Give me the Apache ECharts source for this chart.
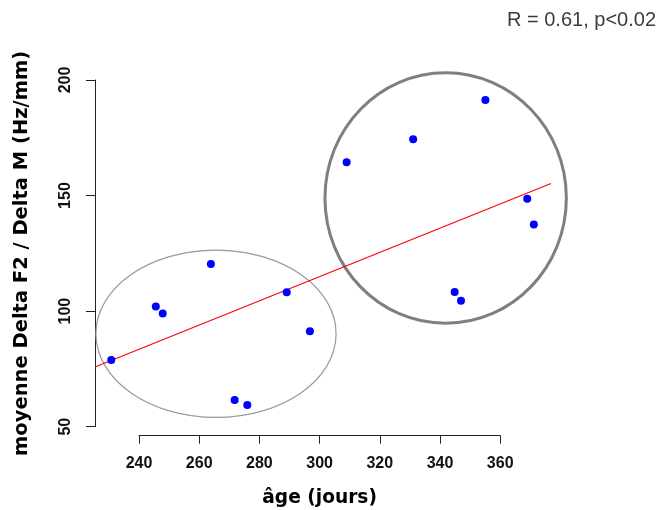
<!DOCTYPE html>
<html><head><meta charset="utf-8">
<script src="https://cdn.jsdelivr.net/npm/echarts@6/dist/echarts.min.js"></script>
<style>html,body{margin:0;padding:0;background:#fff}#c{width:662px;height:510px}</style>
</head><body><div id="c"></div>
<script>
// ---- data ----
const ageJours  = [230.8, 245.6, 247.9, 263.9, 271.8, 276.0, 289.1, 296.8, 309.0, 331.1, 344.9, 347.0, 355.1, 369.0, 371.2];
const deltaF2M  = [78.8, 102.0, 99.0, 120.4, 61.5, 59.4, 108.1, 91.3, 164.4, 174.3, 108.3, 104.5, 191.3, 148.6, 137.4];
const xTicks = [240, 260, 280, 300, 320, 340, 360];
const yTicks = [50, 100, 150, 200];
// group ellipses: [centre age, centre value, half-width (days), half-height (units)]
const groupLeft  = [265.6, 90.2, 39.9, 36.2];
const groupRight = [341.9, 148.9, 40.1, 54.2];
const xTitle = 'âge (jours)';
const yTitle = 'moyenne Delta F2 / Delta M (Hz/mm)';
const statText = 'R = 0.61, p<0.02';

// ---- plotting region limits (R style 4% extension) ----
const X_MIN = 225.4, X_MAX = 376.9, Y_MIN = 46.1, Y_MAX = 204;

// least squares fit
const n = ageJours.length;
const mx = ageJours.reduce((a, b) => a + b, 0) / n;
const my = deltaF2M.reduce((a, b) => a + b, 0) / n;
let sxy = 0, sxx = 0;
for (let i = 0; i < n; i++) { sxy += (ageJours[i] - mx) * (deltaF2M[i] - my); sxx += (ageJours[i] - mx) ** 2; }
const slope = sxy / sxx, icpt = my - slope * mx;
const fitLine = [[X_MIN, icpt + slope * X_MIN], [X_MAX, icpt + slope * X_MAX]];

const points = ageJours.map((x, i) => [x, deltaF2M[i]]);
const ellipseStyles = [
  { stroke: '#9a9a9a', lineWidth: 1.2 },
  { stroke: '#7f7f7f', lineWidth: 3 }
];

const axisColor = '#222';
const tickFont = { fontSize: 16, fontWeight: 'bold', color: '#111', fontFamily: 'Liberation Sans' };
const chart = echarts.init(document.getElementById('c'), null, { renderer: 'canvas' });
chart.setOption({
  animation: false,
  backgroundColor: '#fff',
  grid: [
    { left: 95, top: 70.65, width: 456, height: 365.05, outerBoundsMode: 'none' },
    { left: 139, top: 100, width: 361.2, height: 335.7, outerBoundsMode: 'none' },
    { left: 95, top: 80, width: 100, height: 346.7, outerBoundsMode: 'none' }
  ],
  xAxis: [
    { gridIndex: 0, type: 'value', min: X_MIN, max: X_MAX, show: false },
    { gridIndex: 1, type: 'value', min: xTicks[0], max: xTicks[xTicks.length - 1], interval: 20,
      axisLine: { show: true, lineStyle: { color: axisColor, width: 1 } },
      axisTick: { show: true, length: 8, lineStyle: { color: axisColor } },
      axisLabel: Object.assign({ margin: 20 }, tickFont),
      splitLine: { show: false },
      name: xTitle, nameLocation: 'middle', nameGap: 53,
      nameTextStyle: { fontFamily: 'DejaVu Sans', fontWeight: 'bold', fontSize: 18.6, color: '#000' } },
    { gridIndex: 2, type: 'value', show: false }
  ],
  yAxis: [
    { gridIndex: 0, type: 'value', min: Y_MIN, max: Y_MAX, show: false },
    { gridIndex: 1, type: 'value', show: false },
    { gridIndex: 2, type: 'value', min: yTicks[0], max: yTicks[yTicks.length - 1], interval: 50,
      axisLine: { show: true, lineStyle: { color: axisColor, width: 1 } },
      axisTick: { show: true, length: 9, lineStyle: { color: axisColor } },
      axisLabel: Object.assign({ margin: 21, rotate: 90 }, tickFont),
      splitLine: { show: false },
      name: yTitle, nameLocation: 'middle', nameGap: 63,
      nameTextStyle: { fontFamily: 'DejaVu Sans', fontWeight: 'bold', fontSize: 19.5, color: '#000' } }
  ],
  graphic: [
    { type: 'text', x: 656, y: 20.5,
      style: { text: statText, align: 'right', verticalAlign: 'middle', fontSize: 20, fontFamily: 'Liberation Sans', fill: '#3c3c3c' } }
  ],
  series: [
    { type: 'custom', xAxisIndex: 0, yAxisIndex: 0, clip: false, silent: true, z: 1,
      data: [groupLeft.concat([0]), groupRight.concat([1])],
      renderItem: function (params, api) {
        const c = api.coord([api.value(0), api.value(1)]);
        const s = api.size([api.value(2), api.value(3)]);
        const st = ellipseStyles[api.value(4)];
        return { type: 'ellipse', shape: { cx: c[0], cy: c[1], rx: s[0], ry: s[1] },
                 style: { fill: 'none', stroke: st.stroke, lineWidth: st.lineWidth } };
      } },
    { type: 'line', xAxisIndex: 0, yAxisIndex: 0, data: fitLine, symbol: 'none', z: 2,
      lineStyle: { color: '#ff0000', width: 1.2 } },
    { type: 'scatter', xAxisIndex: 0, yAxisIndex: 0, data: points, symbol: 'circle', symbolSize: 8, z: 3,
      itemStyle: { color: '#0000ff', opacity: 1 } }
  ]
});
</script></body></html>
